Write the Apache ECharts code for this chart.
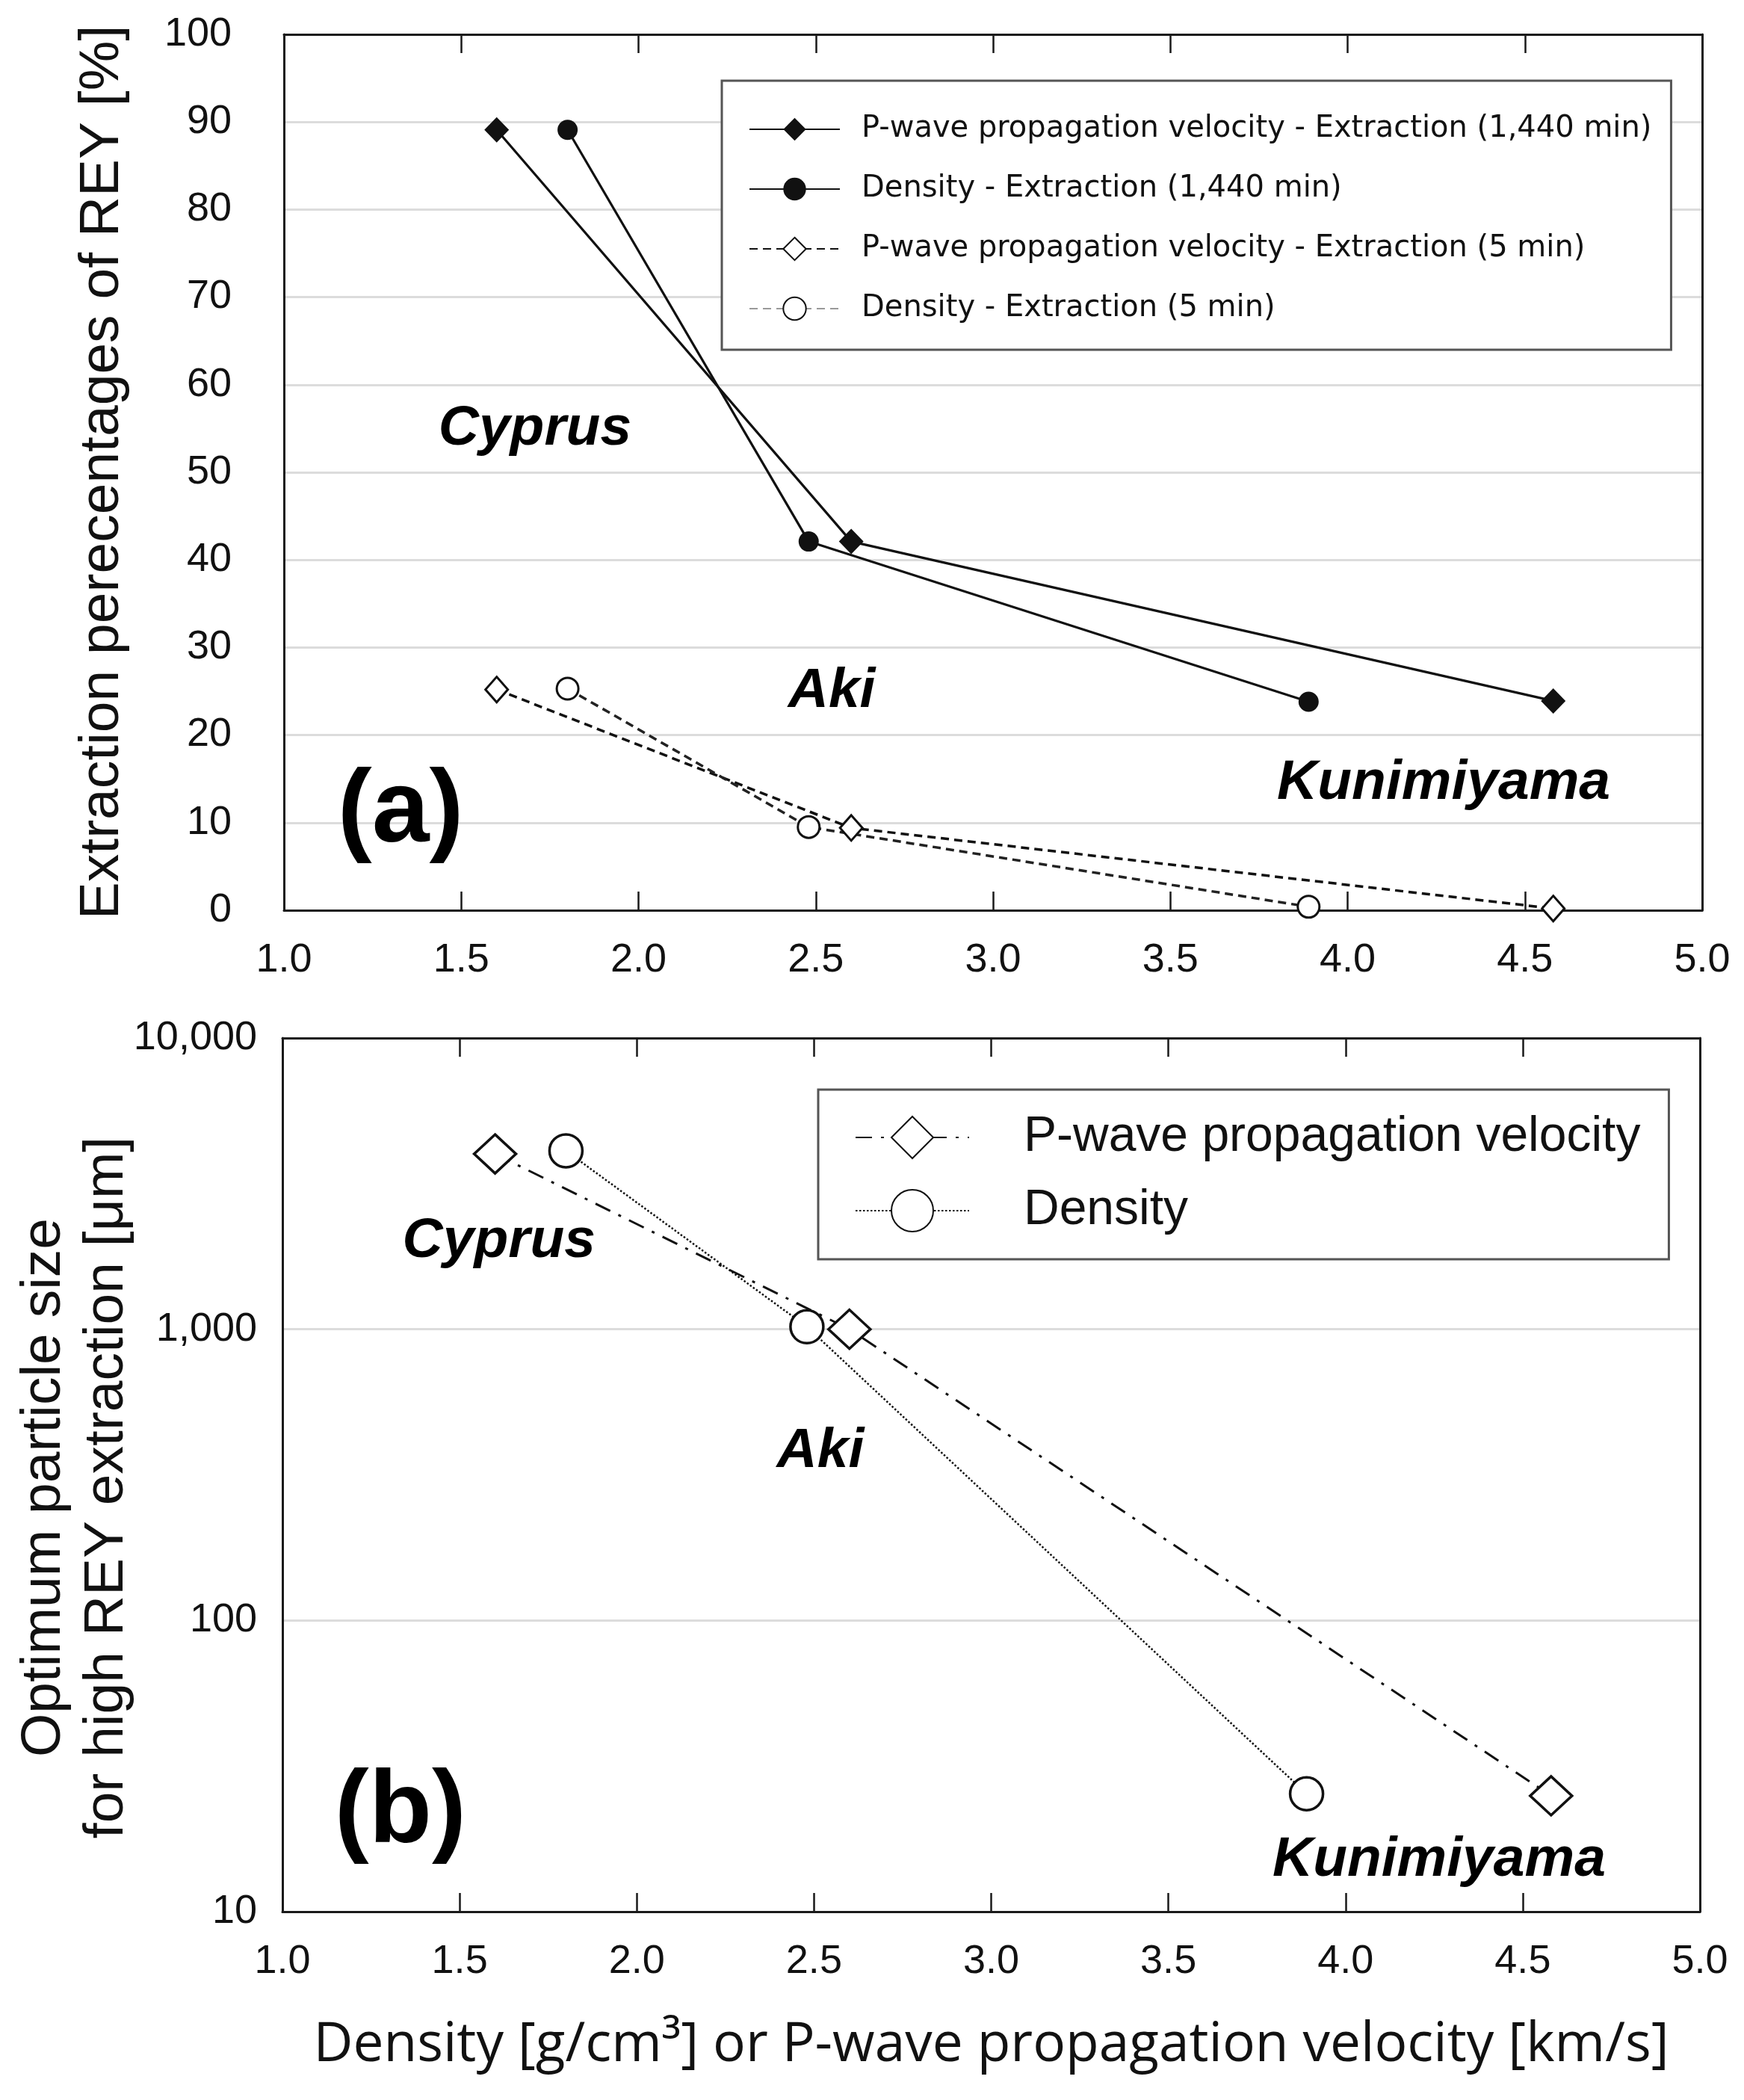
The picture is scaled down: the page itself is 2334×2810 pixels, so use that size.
<!DOCTYPE html>
<html>
<head>
<meta charset="utf-8">
<script src="https://cdn.jsdelivr.net/npm/echarts@6/dist/echarts.min.js"></script>
<style>
html,body{margin:0;padding:0;background:#fff;}
#chart{width:2334px;height:2810px;}
</style>
</head>
<body>
<div id="chart"></div>
<script>
// ---- Data ----
// Panel (a): extraction percentages of REY [%]
const pwave1440 = [[1.60, 89.1], [2.60, 42.1], [4.58, 23.9]];
const density1440 = [[1.80, 89.1], [2.48, 42.1], [3.89, 23.8]];
const pwave5 = [[1.60, 25.2], [2.60, 9.4], [4.58, 0.2]];
const density5 = [[1.80, 25.3], [2.48, 9.5], [3.89, 0.4]];
// Panel (b): optimum particle size [um]
const pwaveSize = [[1.60, 4000], [2.60, 1000], [4.58, 25]];
const densitySize = [[1.80, 4100], [2.48, 1020], [3.89, 25.4]];
// Site labels (data coordinates)
const siteLabelsA = [
  {name: 'Cyprus', value: [1.708, 54.9]},
  {name: 'Aki', value: [2.545, 25.0]},
  {name: 'Kunimiyama', value: [4.271, 14.5]}
];
const siteLabelsB = [
  {name: 'Cyprus', value: [1.611, 2000]},
  {name: 'Aki', value: [2.518, 380]},
  {name: 'Kunimiyama', value: [4.264, 15.0]}
];
const panelA = [{name: '(a)', value: [1.329, 11.1]}];
const panelB = [{name: '(b)', value: [1.333, 21.7]}];

const xTicks = {min: 1, max: 5, interval: 0.5};
const yTicksA = {min: 0, max: 100, interval: 10};
const yTicksB = {min: 10, max: 10000};

const namesA = [
  'P-wave propagation velocity - Extraction (1,440 min)',
  'Density - Extraction (1,440 min)',
  'P-wave propagation velocity - Extraction (5 min)',
  'Density - Extraction (5 min)'
];
const namesB = ['P-wave propagation velocity', 'Density'];

// ---- Chart ----
const FONT = '"Liberation Sans", Arial, sans-serif';
const chart = echarts.init(document.getElementById('chart'), null, {renderer: 'canvas'});

function xAxisDef(grid, pos, withLabels, name) {
  return {
    type: 'value', gridIndex: grid, position: pos,
    min: xTicks.min, max: xTicks.max, interval: xTicks.interval,
    axisLine: {show: true, onZero: false, lineStyle: {color: '#1a1a1a', width: 3}},
    axisTick: {show: true, inside: true, length: 25, lineStyle: {color: '#1a1a1a', width: 2.5}},
    axisLabel: {show: withLabels, formatter: v => v.toFixed(1), fontSize: 54, color: '#111', fontFamily: FONT, margin: 40},
    splitLine: {show: false},
    name: name || '', nameLocation: 'middle', nameGap: 143,
    nameTextStyle: {fontSize: 73, color: '#111', fontFamily: '"Open Sans", "Noto Sans", sans-serif'}
  };
}
function yRight(grid, type, range) {
  return Object.assign({
    type: type, gridIndex: grid, position: 'right',
    axisLine: {show: true, lineStyle: {color: '#1a1a1a', width: 3}},
    axisTick: {show: false}, axisLabel: {show: false}, splitLine: {show: false}
  }, range);
}

const labelStyle = {
  show: true, position: [0, 0], align: 'center', verticalAlign: 'middle',
  formatter: '{b}', color: '#000', opacity: 1, textBorderWidth: 0,
  fontFamily: FONT, fontStyle: 'italic', fontWeight: 'bold', fontSize: 75
};
const panelStyle = {
  show: true, position: [0, 0], align: 'center', verticalAlign: 'middle',
  formatter: '{b}', color: '#000', opacity: 1, textBorderWidth: 0,
  fontFamily: FONT, fontWeight: 'bold', fontSize: 138
};
function textSeries(xi, yi, data, lab) {
  return {
    type: 'scatter', xAxisIndex: xi, yAxisIndex: yi, data: data,
    symbolSize: 0, itemStyle: {color: '#000'}, label: lab, silent: true, z: 5
  };
}

const option = {
  animation: false,
  backgroundColor: '#fff',
  grid: [
    {left: 380, top: 46, width: 1898, height: 1172, outerBoundsMode: 'none', containLabel: false},
    {left: 378, top: 1389, width: 1897, height: 1169, outerBoundsMode: 'none', containLabel: false}
  ],
  legend: [
    {
      data: [
        {name: namesA[0]}, {name: namesA[1]}, {name: namesA[2]},
        {name: namesA[3], lineStyle: {color: '#9a9a9a'}}
      ],
      orient: 'vertical', left: 966, top: 108,
      itemWidth: 121, itemHeight: 38, itemGap: 40,
      padding: [45, 26, 35, 36],
      borderColor: '#555', borderWidth: 3, backgroundColor: '#fff',
      selectedMode: false,
      textStyle: {fontSize: 40, color: '#111', fontFamily: '"DejaVu Sans", sans-serif', padding: [0, 0, 0, 24], lineHeight: 38}
    },
    {
      data: namesB,
      orient: 'vertical', left: 1095, top: 1458,
      itemWidth: 152, itemHeight: 70, itemGap: 28,
      padding: [29, 38, 30, 49],
      borderColor: '#555', borderWidth: 3, backgroundColor: '#fff',
      selectedMode: false,
      textStyle: {fontSize: 66, color: '#111', fontFamily: FONT, padding: [0, 0, 0, 68], lineHeight: 70}
    }
  ],
  xAxis: [
    xAxisDef(0, 'bottom', true),
    xAxisDef(0, 'top', false),
    xAxisDef(1, 'bottom', true, 'Density [g/cm³] or P-wave propagation velocity [km/s]'),
    xAxisDef(1, 'top', false)
  ],
  yAxis: [
    {
      type: 'value', gridIndex: 0, position: 'left',
      min: yTicksA.min, max: yTicksA.max, interval: yTicksA.interval,
      axisLine: {show: true, lineStyle: {color: '#1a1a1a', width: 3}},
      axisTick: {show: false},
      axisLabel: {fontSize: 54, color: '#111', fontFamily: FONT, margin: 70},
      splitLine: {show: true, lineStyle: {color: '#dcdcdc', width: 3}},
      name: 'Extraction perecentages of REY [%]', nameLocation: 'middle', nameGap: 205,
      nameMoveOverlap: false,
      nameTextStyle: {fontSize: 75, color: '#111', fontFamily: FONT}
    },
    yRight(0, 'value', {min: yTicksA.min, max: yTicksA.max, interval: yTicksA.interval}),
    {
      type: 'log', logBase: 10, gridIndex: 1, position: 'left',
      min: yTicksB.min, max: yTicksB.max,
      axisLine: {show: true, lineStyle: {color: '#1a1a1a', width: 3}},
      axisTick: {show: false},
      minorTick: {show: false},
      axisLabel: {fontSize: 54, color: '#111', fontFamily: FONT, margin: 34,
        formatter: v => Number(v).toLocaleString('en-US')},
      splitLine: {show: true, lineStyle: {color: '#dcdcdc', width: 3}},
      name: 'Optimum particle size\nfor high REY extraction [μm]', nameLocation: 'middle', nameGap: 193,
      nameMoveOverlap: false,
      nameTextStyle: {fontSize: 75, lineHeight: 84, color: '#111', fontFamily: FONT, padding: [0, 34, 0, 0]}
    },
    yRight(1, 'log', {logBase: 10, min: yTicksB.min, max: yTicksB.max})
  ],
  series: [
    {
      name: namesA[0], type: 'line', xAxisIndex: 0, yAxisIndex: 0, data: pwave1440,
      symbol: 'diamond', symbolSize: [33, 34],
      lineStyle: {color: '#111', width: 3.2}, itemStyle: {color: '#111'}, z: 3
    },
    {
      name: namesA[1], type: 'line', xAxisIndex: 0, yAxisIndex: 0, data: density1440,
      symbol: 'circle', symbolSize: 27,
      lineStyle: {color: '#111', width: 3.2}, itemStyle: {color: '#111'}, z: 3
    },
    {
      name: namesA[2], type: 'line', xAxisIndex: 0, yAxisIndex: 0, data: pwave5,
      symbol: 'diamond', symbolSize: [30, 34], showAllSymbol: true,
      lineStyle: {color: '#111', width: 3.5, type: [11, 7]},
      itemStyle: {color: '#fff', borderColor: '#111', borderWidth: 3}, z: 3
    },
    {
      name: namesA[3], type: 'line', xAxisIndex: 0, yAxisIndex: 0, data: density5,
      symbol: 'circle', symbolSize: 29,
      lineStyle: {color: '#222', width: 3.5, type: [11, 7]},
      itemStyle: {color: '#fff', borderColor: '#111', borderWidth: 3}, z: 3
    },
    {
      name: namesB[0], type: 'line', xAxisIndex: 2, yAxisIndex: 2, data: pwaveSize,
      symbol: 'diamond', symbolSize: [56, 52],
      lineStyle: {color: '#111', width: 3, type: [22, 12, 4, 12]},
      itemStyle: {color: '#fff', borderColor: '#111', borderWidth: 3.5}, z: 3
    },
    {
      name: namesB[1], type: 'line', xAxisIndex: 2, yAxisIndex: 2, data: densitySize,
      symbol: 'circle', symbolSize: 44,
      lineStyle: {color: '#111', width: 2.5, type: [2.5, 2.5]},
      itemStyle: {color: '#fff', borderColor: '#111', borderWidth: 3.5}, z: 3
    },
    textSeries(0, 0, siteLabelsA, labelStyle),
    textSeries(0, 0, panelA, panelStyle),
    textSeries(2, 2, siteLabelsB, labelStyle),
    textSeries(2, 2, panelB, panelStyle)
  ]
};
chart.setOption(option);
</script>
</body>
</html>
